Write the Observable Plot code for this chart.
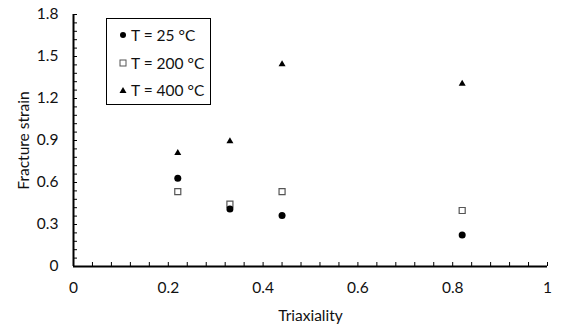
<!DOCTYPE html>
<html>
<head>
<meta charset="utf-8">
<script src="https://cdn.jsdelivr.net/npm/d3@7"></script>
<script src="https://cdn.jsdelivr.net/npm/@observablehq/plot@0.6"></script>
<style>
  html, body { margin: 0; padding: 0; background: #fff; }
  #wrap { position: relative; width: 565px; height: 324px; font-family: Lato, "Noto Sans", sans-serif; }
  #legend { position: absolute; left: 106px; top: 18px; width: 105px; height: 87px; border: 1px solid #000; box-sizing: border-box; background: #fff; font-size: 15.5px; color: #111; }
  .row { position: absolute; left: 12px; height: 18px; display: flex; align-items: center; white-space: nowrap; }
  .row svg { margin-right: 4px; }
</style>
</head>
<body>
<div id="wrap"></div>
<script>
const triaxiality = [0.22, 0.33, 0.44, 0.82];
const strain25  = [0.63, 0.41, 0.365, 0.225];
const strain200 = [0.535, 0.445, 0.535, 0.40];
const strain400 = [0.81, 0.895, 1.445, 1.305];
const seriesLabels = ["T = 25 °C", "T = 200 °C", "T = 400 °C"];
const xTickLabels = [0, 0.2, 0.4, 0.6, 0.8, 1];
const yTickLabels = [0, 0.3, 0.6, 0.9, 1.2, 1.5, 1.8];
const xMinor = d3.range(0, 26).map(i => i * 0.04);
const yMinor = d3.range(0, 31).map(i => i * 0.06);

const rows = (ys) => triaxiality.map((x, i) => ({x, y: ys[i]}));

const W = 565, H = 324, mL = 73, mR = 18, mT = 14, mB = 58;
const plotW = W - mL - mR, plotH = H - mT - mB;

const chart = Plot.plot({
  width: W, height: H,
  marginLeft: mL, marginRight: mR, marginTop: mT, marginBottom: mB,
  style: {fontFamily: "Lato, 'Noto Sans', sans-serif", fontSize: "15.5px", color: "#111", background: "#fff"},
  x: {domain: [0, 1]},
  y: {domain: [0, 1.8]},
  marks: [
    Plot.axisX({ticks: xTickLabels, tickSize: 0, tickPadding: 15, tickFormat: d => String(d), label: "Triaxiality", labelAnchor: "center", labelArrow: "none", labelOffset: 54, fontSize: 15.5}),
    Plot.axisY({ticks: yTickLabels, tickSize: 0, tickPadding: 15, tickFormat: d => String(d), label: "Fracture strain", labelAnchor: "center", labelArrow: "none", labelOffset: 56, fontSize: 15.5}),
    Plot.tickX(xMinor, {x: d => d, insetTop: plotH - 4, stroke: "#000", strokeWidth: 1}),
    Plot.tickY(yMinor, {y: d => d, insetRight: plotW - 4, stroke: "#000", strokeWidth: 1}),
    Plot.ruleY([0], {stroke: "#000", strokeWidth: 2}),
    Plot.ruleX([0], {stroke: "#000", strokeWidth: 2}),
    Plot.dot(rows(strain400), {x: "x", y: "y", symbol: "triangle", r: 2.6, fill: "#000", stroke: "none"}),
    Plot.dot(rows(strain200), {x: "x", y: "y", symbol: "square", r: 3.4, fill: "#fff", stroke: "#555", strokeWidth: 1.2}),
    Plot.dot(rows(strain25), {x: "x", y: "y", symbol: "circle", r: 3.5, fill: "#000", stroke: "none"})
  ]
});

const wrap = document.getElementById("wrap");
wrap.appendChild(chart);

const legend = document.createElement("div");
legend.id = "legend";
const icons = [
  '<svg width="8" height="8"><circle cx="4" cy="4" r="3" fill="#000"/></svg>',
  '<svg width="8" height="8"><rect x="1" y="1" width="6" height="6" fill="#fff" stroke="#555" stroke-width="1"/></svg>',
  '<svg width="8" height="8"><path d="M4,1L7.5,7L0.5,7Z" fill="#000"/></svg>'
];
const tops = [7, 35, 62];
seriesLabels.forEach((lab, i) => {
  const r = document.createElement("div");
  r.className = "row";
  r.style.top = tops[i] + "px";
  r.innerHTML = icons[i] + "<span>" + lab + "</span>";
  legend.appendChild(r);
});
wrap.appendChild(legend);
</script>
</body>
</html>
